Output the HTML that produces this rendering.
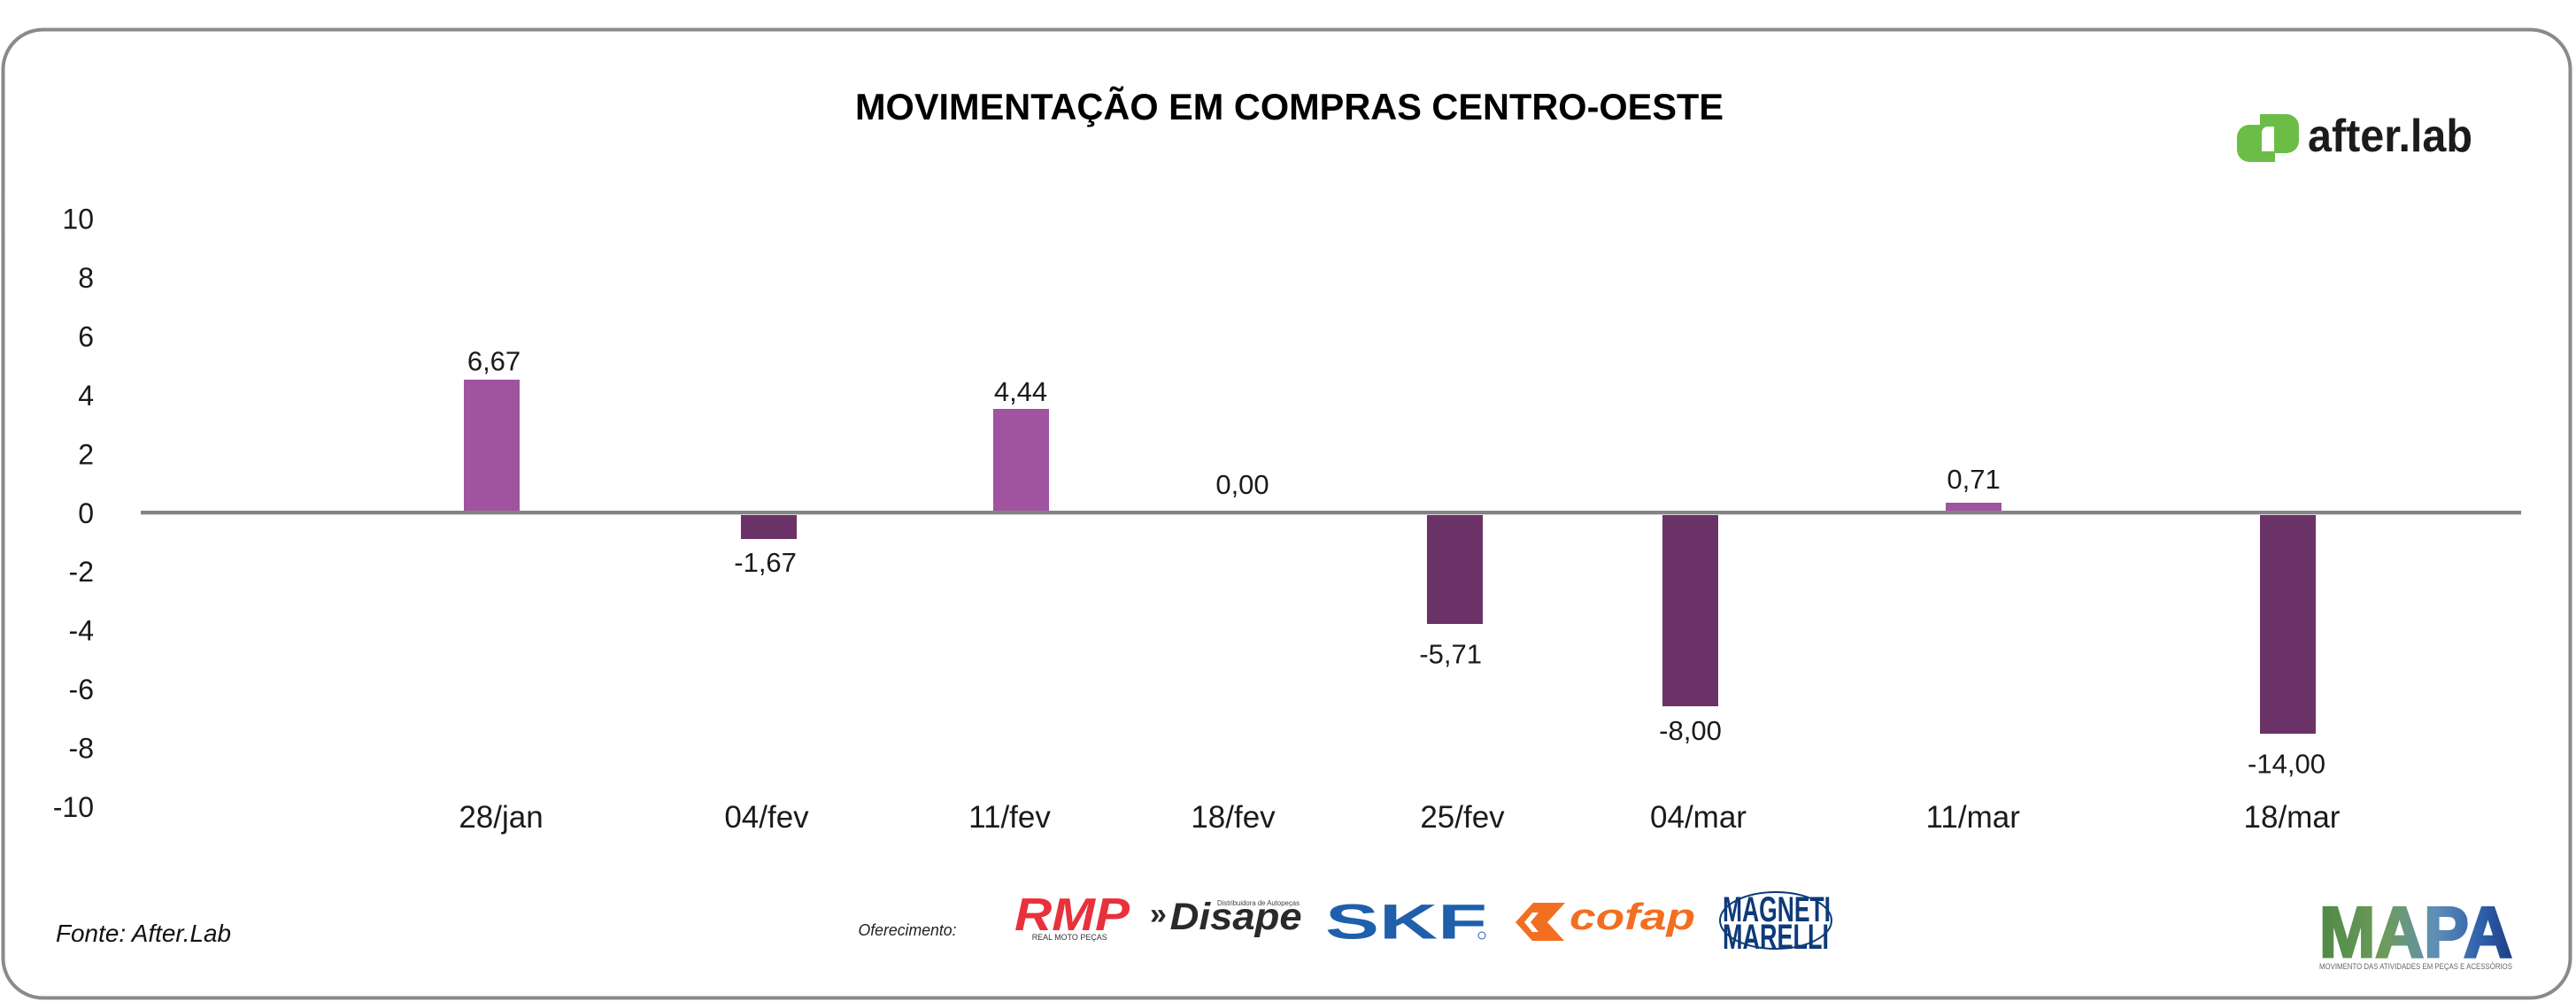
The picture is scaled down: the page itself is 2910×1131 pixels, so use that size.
<!DOCTYPE html>
<html>
<head>
<meta charset="utf-8">
<style>
  html, body { margin:0; padding:0; background:#ffffff; }
  body { width:2910px; height:1131px; overflow:hidden; }
  svg { display:block; }
  text { font-family: "Liberation Sans", "DejaVu Sans", sans-serif; }
</style>
</head>
<body>
<svg width="2910" height="1131" viewBox="0 0 2910 1131" xmlns="http://www.w3.org/2000/svg">
  <defs>
    <linearGradient id="mapa" x1="0" y1="0" x2="1" y2="0">
      <stop offset="0" stop-color="#4f8a45"/>
      <stop offset="0.35" stop-color="#6d9b5c"/>
      <stop offset="0.6" stop-color="#5f8fb8"/>
      <stop offset="0.85" stop-color="#2d5ea8"/>
      <stop offset="1" stop-color="#1c3f86"/>
    </linearGradient>
  </defs>

  <!-- outer rounded border -->
  <rect x="3.5" y="33.5" width="2900" height="1094" rx="45" ry="45" fill="#ffffff" stroke="#8a8a8a" stroke-width="4"/>

  <!-- title -->
  <text x="966" y="135" font-size="42" font-weight="bold" fill="#000" textLength="981" lengthAdjust="spacingAndGlyphs">MOVIMENTAÇÃO EM COMPRAS CENTRO-OESTE</text>

  <!-- after.lab logo -->
  <g>
    <path d="M2541,141 H2570 V183 H2541 A14,14 0 0 1 2527,169 V155 A14,14 0 0 1 2541,141 Z" fill="#6cbd45"/>
    <path d="M2553,129 H2583 A14,14 0 0 1 2597,143 V159 A14,14 0 0 1 2583,173 H2553 Z" fill="#6cbd45"/>
    <path d="M2562,143 H2569 V171 H2555 V150 A7,7 0 0 1 2562,143 Z" fill="#ffffff"/>
    <text x="2607" y="171" font-size="52" font-weight="bold" fill="#1b1b1b" textLength="186" lengthAdjust="spacingAndGlyphs">after.lab</text>
  </g>

  <!-- y axis labels -->
  <g font-size="32" fill="#1a1a1a" text-anchor="end">
    <text x="106" y="258.5">10</text>
    <text x="106" y="325">8</text>
    <text x="106" y="391.4">6</text>
    <text x="106" y="457.9">4</text>
    <text x="106" y="524.3">2</text>
    <text x="106" y="590.8">0</text>
    <text x="106" y="657.2">-2</text>
    <text x="106" y="723.7">-4</text>
    <text x="106" y="790.1">-6</text>
    <text x="106" y="856.6">-8</text>
    <text x="106" y="923">-10</text>
  </g>

  <!-- bars -->
  <rect x="524" y="429" width="63" height="149" fill="#a0539e"/>
  <rect x="837" y="580" width="63" height="29" fill="#6b3268"/>
  <rect x="1122" y="462" width="63" height="116" fill="#a0539e"/>
  <rect x="1612" y="580" width="63" height="125" fill="#6b3268"/>
  <rect x="1878" y="580" width="63" height="218" fill="#6b3268"/>
  <rect x="2198" y="568" width="63" height="10" fill="#a0539e"/>
  <rect x="2553" y="580" width="63" height="249" fill="#6b3268"/>

  <!-- zero line -->
  <rect x="159" y="577" width="2689" height="4" fill="#848484"/>
  <rect x="159" y="581" width="2689" height="1" fill="#d6d6d6"/>

  <!-- data labels -->
  <g font-size="31" fill="#1a1a1a" text-anchor="middle">
    <text x="558" y="418.5">6,67</text>
    <text x="864.6" y="646">-1,67</text>
    <text x="1153" y="453">4,44</text>
    <text x="1403.5" y="558">0,00</text>
    <text x="1638.7" y="749.5">-5,71</text>
    <text x="1909.5" y="836">-8,00</text>
    <text x="2229.6" y="552">0,71</text>
    <text x="2583" y="873.5">-14,00</text>
  </g>

  <!-- x labels -->
  <g font-size="35" fill="#1a1a1a" text-anchor="middle">
    <text x="566" y="935">28/jan</text>
    <text x="866" y="935">04/fev</text>
    <text x="1140.5" y="935">11/fev</text>
    <text x="1393" y="935">18/fev</text>
    <text x="1652" y="935">25/fev</text>
    <text x="1918.5" y="935">04/mar</text>
    <text x="2228.7" y="935">11/mar</text>
    <text x="2589" y="935">18/mar</text>
  </g>

  <!-- footer source -->
  <text x="63" y="1064" font-size="28" font-style="italic" fill="#111" textLength="198" lengthAdjust="spacingAndGlyphs">Fonte: After.Lab</text>

  <!-- sponsors -->
  <text x="969.5" y="1057" font-size="18" font-style="italic" fill="#222" textLength="111" lengthAdjust="spacingAndGlyphs">Oferecimento:</text>

  <!-- RMP -->
  <text x="1146" y="1051" font-size="52" font-weight="bold" font-style="italic" fill="#e8313a" textLength="130" lengthAdjust="spacingAndGlyphs">RMP</text>
  <text x="1165.7" y="1062" font-size="9" fill="#333" textLength="85" lengthAdjust="spacingAndGlyphs">REAL MOTO PEÇAS</text>

  <!-- Disape -->
  <text x="1299" y="1044" font-size="34" font-weight="bold" fill="#2a2a2a">»</text>
  <text x="1321.7" y="1050" font-size="43" font-weight="bold" font-style="italic" fill="#2a2a2a" textLength="149" lengthAdjust="spacingAndGlyphs">Disape</text>
  <text x="1375" y="1023" font-size="8" fill="#444" textLength="93" lengthAdjust="spacingAndGlyphs">Distribuidora de Autopeças</text>

  <!-- SKF -->
  <text x="1497" y="1060.5" font-size="56" font-weight="bold" fill="#1f5fab" textLength="183" lengthAdjust="spacingAndGlyphs">SKF</text>
  <circle cx="1674" cy="1057" r="4" fill="none" stroke="#1f5fab" stroke-width="1"/>

  <!-- cofap -->
  <polygon points="1712,1042 1732,1020 1768,1020 1748,1042 1767,1063 1731,1063" fill="#f26f21"/>
  <polygon points="1722,1042 1731,1031 1738,1031 1729,1042 1738,1053 1731,1053" fill="#ffffff"/>
  <text x="1773" y="1050" font-size="42" font-weight="bold" font-style="italic" fill="#f26f21" textLength="142" lengthAdjust="spacingAndGlyphs">cofap</text>

  <!-- Magneti Marelli -->
  <ellipse cx="2006" cy="1040" rx="63" ry="32" fill="none" stroke="#0d3a7a" stroke-width="2"/>
  <text x="1946" y="1041" font-size="40" font-weight="bold" fill="#0d3a7a" textLength="122" lengthAdjust="spacingAndGlyphs">MAGNETI</text>
  <text x="1946" y="1072" font-size="40" font-weight="bold" fill="#0d3a7a" textLength="120" lengthAdjust="spacingAndGlyphs">MARELLI</text>

  <!-- MAPA -->
  <text x="2620" y="1081" font-size="81" font-weight="900" fill="url(#mapa)" stroke="url(#mapa)" stroke-width="3" textLength="218" lengthAdjust="spacingAndGlyphs">MAPA</text>
  <text x="2620" y="1095" font-size="9" fill="#666" textLength="218" lengthAdjust="spacingAndGlyphs">MOVIMENTO DAS ATIVIDADES EM PEÇAS E ACESSÓRIOS</text>
</svg>
</body>
</html>
